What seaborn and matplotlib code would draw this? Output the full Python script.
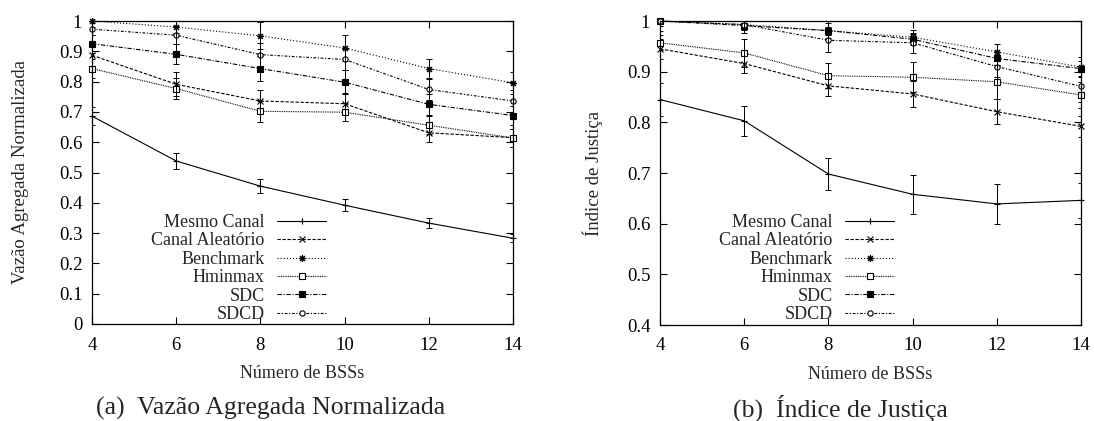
import numpy as np
import pandas as pd
import seaborn as sns
import matplotlib.pyplot as plt

# dados
bss = [4, 6, 8, 10, 12, 14]
series = ['Mesmo Canal', 'Canal Aleatório', 'Benchmark', 'Hminmax', 'SDC', 'SDCD']

# (a) vazao agregada normalizada
vazao_mesmo = [0.686, 0.538, 0.455, 0.392, 0.333, 0.283]
vazao_aleat = [0.887, 0.791, 0.736, 0.727, 0.631, 0.615]
vazao_bench = [1.0, 0.980, 0.951, 0.911, 0.843, 0.796]
vazao_hmin = [0.843, 0.777, 0.702, 0.699, 0.656, 0.614]
vazao_sdc = [0.925, 0.890, 0.843, 0.798, 0.725, 0.688]
vazao_sdcd = [0.973, 0.953, 0.889, 0.873, 0.774, 0.736]
vazao_mesmo_err = [0.03, 0.027, 0.023, 0.02, 0.017, 0.013]
vazao_aleat_err = [0.04, 0.04, 0.035, 0.035, 0.03, 0.03]
vazao_bench_err = [0.02, 0.02, 0.045, 0.042, 0.03, 0.036]
vazao_hmin_err = [0.03, 0.035, 0.035, 0.03, 0.03, 0.03]
vazao_sdc_err = [0.03, 0.033, 0.04, 0.04, 0.035, 0.03]
vazao_sdcd_err = [0.02, 0.03, 0.04, 0.035, 0.035, 0.035]

# (b) indice de justica
justica_mesmo = [0.845, 0.803, 0.698, 0.658, 0.639, 0.646]
justica_aleat = [0.945, 0.916, 0.872, 0.856, 0.821, 0.792]
justica_bench = [1.0, 0.993, 0.981, 0.968, 0.939, 0.909]
justica_hmin = [0.957, 0.937, 0.892, 0.889, 0.880, 0.854]
justica_sdc = [1.0, 0.991, 0.981, 0.964, 0.926, 0.906]
justica_sdcd = [1.0, 0.993, 0.962, 0.957, 0.910, 0.871]
justica_mesmo_err = [0.033, 0.029, 0.032, 0.038, 0.039, 0.035]
justica_aleat_err = [0.02, 0.018, 0.02, 0.025, 0.025, 0.02]
justica_bench_err = [0.01, 0.01, 0.015, 0.015, 0.015, 0.02]
justica_hmin_err = [0.015, 0.028, 0.025, 0.03, 0.033, 0.025]
justica_sdc_err = [0.003, 0.006, 0.008, 0.01, 0.012, 0.015]
justica_sdcd_err = [0.02, 0.016, 0.023, 0.02, 0.02, 0.03]

vazao = [vazao_mesmo, vazao_aleat, vazao_bench, vazao_hmin, vazao_sdc, vazao_sdcd]
vazao_err = [vazao_mesmo_err, vazao_aleat_err, vazao_bench_err,
             vazao_hmin_err, vazao_sdc_err, vazao_sdcd_err]
justica = [justica_mesmo, justica_aleat, justica_bench, justica_hmin, justica_sdc, justica_sdcd]
justica_err = [justica_mesmo_err, justica_aleat_err, justica_bench_err,
               justica_hmin_err, justica_sdc_err, justica_sdcd_err]

# estilos tipo gnuplot
estilos = {
    'Mesmo Canal': dict(ls='-', marker='+', mfc='black', ms=5),
    'Canal Aleatório': dict(ls=(0, (3, 1.5)), marker='x', mfc='black', ms=4),
    'Benchmark': dict(ls=(0, (1, 1.8)), marker=(8, 2, 0), mfc='black', ms=5),
    'Hminmax': dict(ls=(0, (0.8, 0.8)), marker='s', mfc='white', ms=3.8),
    'SDC': dict(ls=(0, (4, 1.5, 1, 1.5)), marker='s', mfc='black', ms=3.8),
    'SDCD': dict(ls=(0, (2.5, 1.5, 1, 1.5)), marker='o', mfc='white', ms=3.8),
}

sns.set_theme(style="ticks")
plt.rcParams['font.family'] = ['Liberation Serif', 'DejaVu Serif']

fig = plt.figure(figsize=(10.94, 4.21), dpi=100)
ax_a = fig.add_axes([92 / 1094, 1 - 324 / 421, 421 / 1094, 303 / 421])
ax_b = fig.add_axes([660 / 1094, 1 - 325 / 421, 421 / 1094, 304 / 421])


def desenhar(ax, valores, erros, ylim, yticks, ylabel, leg_x, ylab_x):
    for s, v, e in zip(series, valores, erros):
        st = estilos[s]
        sns.lineplot(x=bss, y=v, ax=ax, color='black', lw=0.8, label=s,
                     linestyle=st['ls'], marker=st['marker'], ms=st['ms'],
                     mfc=st['mfc'], mec='black', mew=0.8, clip_on=False)
        ax.errorbar(bss, v, yerr=e, fmt='none', ecolor='black', elinewidth=0.7,
                    capsize=2.5, capthick=0.7, linestyle=st['ls'])
    ax.set_xlim(4, 14)
    ax.set_ylim(*ylim)
    ax.set_xticks([4, 6, 8, 10, 12, 14])
    ax.set_yticks(yticks)
    ax.set_yticklabels(['0' if t == 0 else ('1' if t == 1 else f'{t:.1f}') for t in yticks])
    ax.tick_params(direction='in', top=True, right=True, length=5, width=0.8,
                   labelsize=13.5, colors='black')
    ax.tick_params(axis='y', pad=7)
    ax.tick_params(axis='x', pad=9)
    for sp in ax.spines.values():
        sp.set_visible(True)
        sp.set_linewidth(0.9)
        sp.set_color('black')
    ax.set_xlabel('Número de BSSs', fontsize=13)
    ax.set_ylabel(ylabel, fontsize=13.5)
    ax.xaxis.set_label_coords(0.5, -0.135)
    ax.yaxis.set_label_coords(ylab_x, 0.5)
    ax.legend(loc='upper right', bbox_to_anchor=(leg_x / 1094, 1 - 214 / 421),
              bbox_transform=fig.transFigure, frameon=False, fontsize=13,
              markerfirst=False, handlelength=2.7, handletextpad=0.7,
              labelspacing=0.08, borderpad=0, borderaxespad=0)
    ax.set_facecolor('white')


desenhar(ax_a, vazao, vazao_err, (0, 1), [round(0.1 * i, 1) for i in range(11)],
         'Vazão Agregada Normalizada', 326, -0.15)
desenhar(ax_b, justica, justica_err, (0.4, 1), [0.4, 0.5, 0.6, 0.7, 0.8, 0.9, 1.0],
         'Índice de Justiça', 894, -0.135)

fig.text(271 / 1094, 1 - 408 / 421, '(a)  Vazão Agregada Normalizada',
         ha='center', va='center', fontsize=18.5)
fig.text(840 / 1094, 1 - 408 / 421, '(b)  Índice de Justiça',
         ha='center', va='center', fontsize=18.5)

plt.savefig('out.png', dpi=100, facecolor='white')
plt.close()
